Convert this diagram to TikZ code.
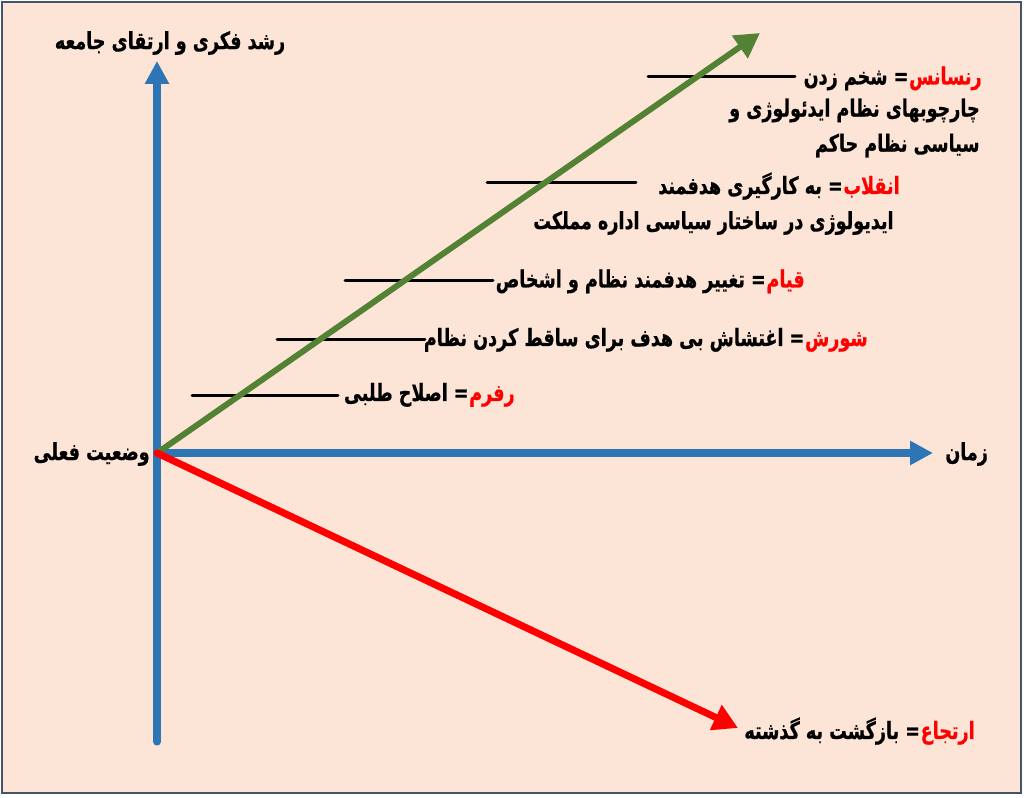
\documentclass[tikz,border=0pt]{standalone}
\usepackage{fontspec}
\usepackage{tkz-euclide}
\usetikzlibrary{arrows.meta}
\TeXXeTstate=1
\newfontfamily\farsifont[Script=Arabic,FakeStretch=0.74,FakeBold=0.6]{DejaVu Sans}
\definecolor{bgpeach}{HTML}{FCE4D6}
\definecolor{framegrey}{HTML}{44546A}
\definecolor{axisblue}{HTML}{2E75B6}
\definecolor{risegreen}{HTML}{548235}
\tikzset{
    axis line/.style={color=axisblue, line width=4pt,
        -{Triangle[length=13pt,width=13pt]}},
    rise line/.style={color=risegreen, line width=3.4pt,
        -{Triangle[length=14pt,width=15pt]}},
    fall line/.style={color=red, line width=4pt,
        -{Triangle[length=14pt,width=15pt]}},
    lead line/.style={black, line width=1.7pt},
    label text/.style={font=\farsifont\bfseries\fontsize{13.5}{20}\selectfont,
        inner sep=0pt, align=right},
    key word/.style={label text, text=red}
}

\begin{document}
\begin{tikzpicture}
    % Init
    \useasboundingbox (0,0) rectangle (20.48,15.96);
    \fill[white] (0,0) rectangle (20.48,15.96);
    \filldraw[fill=bgpeach, draw=framegrey, line width=1pt]
        (0.04,0.10) rectangle (20.42,15.92);
    % 1. def point
    \tkzDefPoint(3.14,6.90){O}
    \tkzDefPoint(3.14,1.12){B}
    \tkzDefPoint(3.14,14.74){Y}
    \tkzDefPoint(18.66,6.90){X}
    \tkzDefPoint(15.20,15.30){G}
    \tkzDefPoint(14.76,1.40){R}
    % leader lines
    \tkzDefPoint(12.96,14.42){A1} \tkzDefPoint(15.90,14.42){A2}
    \tkzDefPoint(9.74,12.30){B1}  \tkzDefPoint(12.72,12.30){B2}
    \tkzDefPoint(6.90,10.34){C1}  \tkzDefPoint(9.86,10.34){C2}
    \tkzDefPoint(5.54,9.16){D1}   \tkzDefPoint(8.50,9.16){D2}
    \tkzDefPoint(3.84,8.04){E1}   \tkzDefPoint(6.76,8.04){E2}
    % 2. draw axes and arrows
    \tkzDrawSegment[lead line](A1,A2)
    \tkzDrawSegment[lead line](B1,B2)
    \tkzDrawSegment[lead line](C1,C2)
    \tkzDrawSegment[lead line](D1,D2)
    \tkzDrawSegment[lead line](E1,E2)
    \tkzDrawSegment[axis line](B,Y)
    \tkzDrawSegment[axis line](O,X)
    \tkzDrawSegment[rise line](O,G)
    \tkzDrawSegment[fall line](O,R)
    % 3. labels
    \node[key word, anchor=base east] (renaissance) at (19.64,14.27)
        {\beginR رنسانس\endR};
    \node[label text, anchor=base east] (renaissanceA) at (renaissance.base west)
        {\beginR= شخم زدن\endR};
    \node[label text, anchor=east] (renaissanceB) at (19.60,13.40)
        {\beginR چارچوبهای نظام ایدئولوژی و\endR\\
         \beginR سیاسی نظام حاکم\endR};
    \node[key word, anchor=base east] (enghelab) at (18.00,12.08)
        {\beginR انقلاب\endR};
    \node[label text, anchor=base east] (enghelabA) at (enghelab.base west)
        {\beginR= به کارگیری هدفمند\endR};
    \node[label text, anchor=east] (enghelabB) at (17.88,11.50)
        {\beginR ایدیولوژی در ساختار سیاسی اداره مملکت\endR};
    \node[key word, anchor=base east] (ghiam) at (16.10,10.21)
        {\beginR قیام\endR};
    \node[label text, anchor=base east] (ghiamA) at (ghiam.base west)
        {\beginR= تغییر  هدفمند نظام و اشخاص\endR};
    \node[key word, anchor=base east] (shoresh) at (17.36,9.04)
        {\beginR شورش\endR};
    \node[label text, anchor=base east] (shoreshA) at (shoresh.base west)
        {\beginR= اغتشاش بی هدف برای ساقط کردن نظام\endR};
    \node[key word, anchor=base east] (reform) at (10.30,7.94)
        {\beginR رفرم\endR};
    \node[label text, anchor=base east] (reformA) at (reform.base west)
        {\beginR= اصلاح طلبی\endR};
    \node[label text, anchor=east] (now) at (3.00,6.88)
        {\beginR وضعیت فعلی\endR};
    \node[label text, anchor=west] (time) at (18.90,6.88)
        {\beginR زمان\endR};
    \node[label text] (growth) at (3.40,15.10)
        {\beginR رشد فکری و ارتقای جامعه\endR};
    \node[key word, anchor=base east] (ertejaa) at (19.50,1.18)
        {\beginR ارتجاع\endR};
    \node[label text, anchor=base east] (ertejaaA) at (ertejaa.base west)
        {\beginR= بازگشت به گذشته\endR};
\end{tikzpicture}
\end{document}
